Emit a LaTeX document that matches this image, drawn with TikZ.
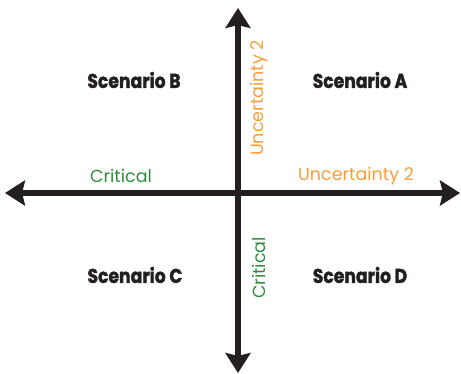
\documentclass[tikz,border=0pt]{standalone}
\usepackage{fontspec}
\setmainfont{Poppins}
\newfontfamily\heavyfont{Poppins}[BoldFeatures={FakeBold=1.6},FakeStretch=0.86]
\usepackage{tikz}
\usetikzlibrary{arrows.meta}
\definecolor{axisblack}{RGB}{35,31,32}
\definecolor{critgreen}{RGB}{50,140,62}
\definecolor{uncorange}{RGB}{246,158,58}
\tikzset{
  axis/.style={{Stealth[length=20pt,width=25pt,inset=3pt]}-{Stealth[length=20pt,width=25pt,inset=3pt]},line width=6pt,axisblack},
  scen/.style={font=\heavyfont\fontsize{20}{20}\selectfont\bfseries,axisblack},
  crit/.style={font=\fontsize{17.5}{17.5}\selectfont,critgreen},
  unc/.style={font=\fontsize{17.5}{17.5}\selectfont,uncorange}
}

\begin{document}
\begin{tikzpicture}[x=1pt,y=1pt]
        \useasboundingbox (0,0) rectangle (461,373);
        \coordinate (west) at (5,180);
        \coordinate (east) at (460,180);
        \coordinate (north) at (238,365);
        \coordinate (south) at (238,0);
        \draw[axis] (west) -- (east);
        \draw[axis] (south) -- (north);
        \node [scen] (scenB) at (134,293) {Scenario B};
        \node [scen] (scenA) at (360,293) {Scenario A};
        \node [scen] (scenC) at (135,98) {Scenario C};
        \node [scen] (scenD) at (360,98) {Scenario D};
        \node [crit] (critH) at (121,197) {Critical};
        \node [unc] (uncH) at (356,197) {Uncertainty 2};
        \node [unc,rotate=90] (uncV) at (259,275) {Uncertainty 2};
        \node [crit,rotate=90] (critV) at (259,105) {Critical};
      \end{tikzpicture}
\end{document}
